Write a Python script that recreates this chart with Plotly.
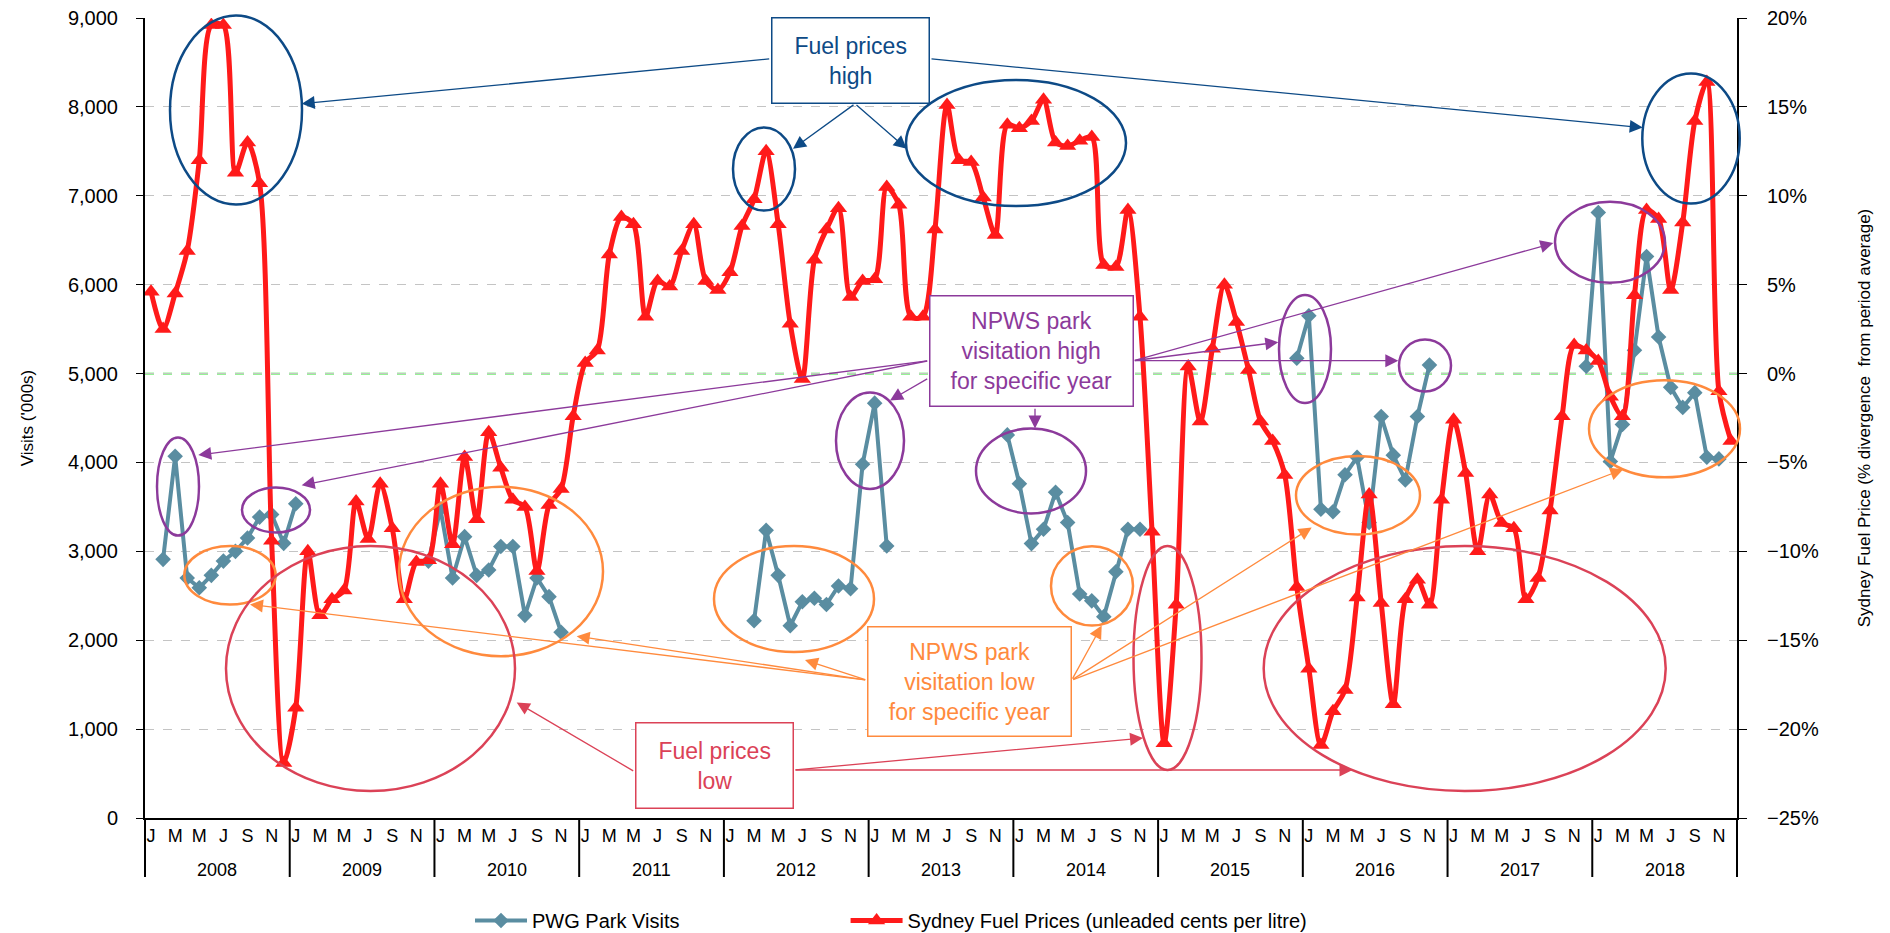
import plotly.graph_objects as go

# ---------------- data ----------------
years = [str(y) for y in range(2008, 2019)]
month_letters = ["J", "M", "M", "J", "S", "N"]

# Sydney fuel price, % divergence from period average (monthly, Jan..Dec)
fuel_2008 = [4.6, 2.5, 4.5, 6.9, 12.0, 19.6, 19.6, 11.3, 13.0, 10.7, -9.4, -21.9]
fuel_2009 = [-18.8, -10.0, -13.6, -12.7, -12.2, -7.2, -9.3, -6.2, -8.7, -12.7, -10.6, -10.5]
fuel_2010 = [-6.2, -9.6, -4.7, -8.2, -3.3, -5.3, -7.1, -7.5, -11.1, -7.4, -6.5, -2.4]
fuel_2011 = [0.6, 1.3, 6.7, 8.8, 8.4, 3.2, 5.2, 4.9, 6.9, 8.4, 5.2, 4.7]
fuel_2012 = [5.7, 8.3, 9.8, 12.5, 8.4, 2.8, -0.3, 6.4, 8.1, 9.3, 4.3, 5.2]
fuel_2013 = [5.3, 10.5, 9.5, 3.2, 3.2, 8.1, 15.1, 12.0, 11.9, 9.9, 7.8, 14.0]
fuel_2014 = [13.8, 14.2, 15.4, 13.0, 12.8, 13.1, 13.3, 6.1, 6.0, 9.2, 3.2, -8.9]
fuel_2015 = [-20.8, -13.0, 0.4, -2.7, 1.4, 5.0, 2.9, 0.2, -2.7, -3.8, -5.7, -12.0]
fuel_2016 = [-16.6, -20.9, -19.0, -17.8, -12.6, -6.8, -12.9, -18.6, -12.7, -11.6, -13.0, -7.1]
fuel_2017 = [-2.6, -5.6, -10.0, -6.8, -8.4, -8.7, -12.7, -11.5, -7.7, -2.4, 1.6, 1.3]
fuel_2018 = [0.7, -1.3, -2.4, 4.4, 9.2, 8.7, 4.7, 8.5, 14.2, 16.4, -1.0, -3.8]

# PWG park visits ('000s), None where no value
visits_2008 = [None, 2910, 4070, 2700, 2590, 2730, 2890, 3000, 3150, 3385, 3415, 3090]
visits_2009 = [3535, None, None, None, None, None, None, None, None, None, None, 2890]
visits_2010 = [3475, 2700, 3165, 2730, 2790, 3055, 3055, 2280, 2700, 2490, 2090, None]
visits_2011 = [None] * 12
visits_2012 = [None, None, 2220, 3236, 2730, 2163, 2432, 2473, 2402, 2610, 2580, 3980]
visits_2013 = [4667, 3060, None, None, None, None, None, None, None, None, None, 4310]
visits_2014 = [3760, 3087, 3248, 3665, 3325, 2520, 2443, 2265, 2771, 3248, 3248, None]
visits_2015 = [None] * 11 + [5173]
visits_2016 = [5650, 3474, 3445, 3862, 4058, 3325, 4517, 4082, 3802, 4517, 5095, None]
visits_2017 = [None] * 11 + [5083]
visits_2018 = [6812, 4011, 4428, 5262, 6317, 5411, 4845, 4619, 4785, 4058, 4040, None]

fuel = (fuel_2008 + fuel_2009 + fuel_2010 + fuel_2011 + fuel_2012 + fuel_2013
        + fuel_2014 + fuel_2015 + fuel_2016 + fuel_2017 + fuel_2018)
visits = (visits_2008 + visits_2009 + visits_2010 + visits_2011 + visits_2012 + visits_2013
          + visits_2014 + visits_2015 + visits_2016 + visits_2017 + visits_2018)
n_months = len(fuel)
xs = list(range(n_months))

# ---------------- styling ----------------
FONT = "Liberation Sans, Arial, sans-serif"
BLUE = "#5A8DA1"
RED = "#FF1A1A"
NAVY = "#0D4A86"
PURPLE = "#8C3A9B"
ORANGE = "#FF8A3D"
CRIMSON = "#DB4257"

W, H = 1890, 933
PL, PR, PT, PB = 145, 1737, 18, 818


def PX(x):
    return (x - PL) / (PR - PL)


def PY(y):
    return (PB - y) / (PB - PT)


fig = go.Figure()
fig.add_trace(go.Scatter(
    x=xs, y=visits, name="PWG Park Visits" + "\u00a0" * 29, mode="lines+markers",
    line=dict(color=BLUE, width=4), connectgaps=False,
    marker=dict(symbol="diamond", size=12, color=BLUE),
    yaxis="y"))
fig.add_trace(go.Scatter(
    x=xs, y=fuel, name="Sydney Fuel Prices (unleaded cents per litre)", mode="lines+markers",
    line=dict(color=RED, width=5, shape="spline", smoothing=0.8),
    marker=dict(symbol="triangle-up", size=15, color=RED),
    yaxis="y2"))

shapes = []
annotations = []

# period-average reference line
shapes.append(dict(type="line", xref="paper", yref="y", x0=0, x1=1, y0=5000, y1=5000,
                   line=dict(color="#2EE62E", width=1.8, dash="dash"), layer="between"))

# year separators below axis
n_years = len(years)
for k in range(n_years + 1):
    shapes.append(dict(type="line", xref="paper", yref="paper", x0=k / n_years, x1=k / n_years,
                       y0=0, y1=-(877 - PB) / (PB - PT), line=dict(color="black", width=2)))
for k, yr in enumerate(years):
    annotations.append(dict(x=(k + 0.5) / n_years, y=-(870 - PB) / (PB - PT), xref="paper", yref="paper",
                            text=yr, showarrow=False, font=dict(family=FONT, size=18, color="black"),
                            xanchor="center", yanchor="middle"))


# ---------------- annotation graphics ----------------
def ellipse(cx, cy, rx, ry, color):
    shapes.append(dict(type="circle", xref="paper", yref="paper",
                       x0=PX(cx - rx), x1=PX(cx + rx), y0=PY(cy + ry), y1=PY(cy - ry),
                       line=dict(color=color, width=2.5)))


def arrow(tx, ty, hx, hy, color):
    annotations.append(dict(x=PX(hx), y=PY(hy), xref="paper", yref="paper",
                            ax=tx - hx, ay=ty - hy, axref="pixel", ayref="pixel",
                            text="", showarrow=True, arrowhead=2, arrowsize=2.0,
                            arrowwidth=1.3, arrowcolor=color, standoff=0, startstandoff=0))


def box(x0, y0, x1, y1, text, color, size):
    annotations.append(dict(x=PX((x0 + x1) / 2), y=PY((y0 + y1) / 2), xref="paper", yref="paper",
                            text=text, showarrow=False, xanchor="center", yanchor="middle",
                            width=x1 - x0 - 3, height=y1 - y0 - 3, borderpad=0,
                            bordercolor=color, borderwidth=1.5, bgcolor="white",
                            font=dict(family=FONT, size=size, color=color)))


# navy: fuel prices high
for cx, cy, rx, ry in [(236, 110, 66, 94.5), (764, 169, 31, 41.6), (1016, 143, 110, 63), (1691, 138.5, 48.7, 65)]:
    ellipse(cx, cy, rx, ry, NAVY)
# purple: visitation high
for cx, cy, rx, ry in [(178, 486.5, 21, 49), (276, 510, 34, 22.5), (870, 440.7, 34, 48.2),
                       (1031, 471, 55, 42.4), (1305, 349, 26, 54), (1425, 365.5, 26, 26),
                       (1610, 242.3, 55, 40.5)]:
    ellipse(cx, cy, rx, ry, PURPLE)
# orange: visitation low
for cx, cy, rx, ry in [(230, 575.3, 45.7, 29.2), (501, 571.5, 102, 84.7), (794, 599, 80, 53),
                       (1092, 585.9, 41, 39.7), (1358, 495.3, 62, 39.2), (1664.5, 428.8, 75.5, 48.5)]:
    ellipse(cx, cy, rx, ry, ORANGE)
# crimson: fuel prices low
for cx, cy, rx, ry in [(370.5, 668.5, 144.5, 122.5), (1167.5, 658, 34, 112), (1464.7, 668.5, 201, 122.5)]:
    ellipse(cx, cy, rx, ry, CRIMSON)

# arrows
arrow(770.7, 58.8, 301.7, 103.8, NAVY)
arrow(855, 103.8, 793, 148.8, NAVY)
arrow(855, 103.8, 906.7, 148.8, NAVY)
arrow(930, 58.8, 1642.7, 127.6, NAVY)

arrow(928.7, 360.7, 198.3, 455, PURPLE)
arrow(928.7, 360.7, 301.7, 485.2, PURPLE)
arrow(928.7, 378, 890, 400.4, PURPLE)
arrow(1035, 407.3, 1035, 428.5, PURPLE)
arrow(1133.3, 360.7, 1278.3, 342.2, PURPLE)
arrow(1133.3, 360.7, 1398.3, 360.7, PURPLE)
arrow(1133.3, 360.7, 1553.3, 243.1, PURPLE)

arrow(866.7, 680.1, 250, 604.4, ORANGE)
arrow(866.7, 680.1, 576.7, 636.2, ORANGE)
arrow(866.7, 680.1, 805, 660, ORANGE)
arrow(1071.7, 680.1, 1101.7, 625.6, ORANGE)
arrow(1071.7, 680.1, 1311.7, 527.6, ORANGE)
arrow(1071.7, 680.1, 1623.3, 469.3, ORANGE)

arrow(634.7, 771.7, 516.7, 702.4, CRIMSON)
arrow(794, 770, 1143, 738, CRIMSON)
arrow(794, 770, 1352.5, 770, CRIMSON)

# text boxes
box(770.7, 16.4, 930, 103.8, "Fuel prices<br>high", NAVY, 23)
box(928.7, 295.6, 1133.3, 407.3, "NPWS park<br>visitation high<br>for specific year", PURPLE, 23)
box(866.7, 625.6, 1071.7, 736.8, "NPWS park<br>visitation low<br>for specific year", ORANGE, 23)
box(634.7, 721.7, 794, 809, "Fuel prices<br>low", CRIMSON, 23)

fig.update_layout(
    width=W, height=H,
    margin=dict(l=PL, r=W - PR, t=PT, b=H - PB, autoexpand=False),
    paper_bgcolor="white", plot_bgcolor="white",
    font=dict(family=FONT, size=17, color="black"),
    showlegend=True,
    legend=dict(orientation="h", x=PX(470), xanchor="left", y=PY(901), yanchor="top",
                font=dict(family=FONT, size=20, color="black"), itemwidth=52,
                bgcolor="rgba(0,0,0,0)"),
    xaxis=dict(range=[-0.5, n_months - 0.5], tickmode="array",
               tickvals=xs[::2], ticktext=month_letters * n_years, automargin=False,
               showgrid=False, zeroline=False, showline=True, linecolor="black", linewidth=2,
               ticks="", tickfont=dict(family=FONT, size=18, color="black")),
    yaxis=dict(range=[0, 9000], dtick=1000, tickformat=",", showgrid=True, automargin=False,
               gridcolor="#C4C4C4", griddash="dash", gridwidth=1.2, zeroline=False,
               showline=True, linecolor="black", linewidth=2, ticks="outside", ticklen=7,
               tickcolor="black", tickfont=dict(family=FONT, size=20, color="black"),
               ticklabelstandoff=14,
               title=dict(text="Visits ('000s)", font=dict(family=FONT, size=17, color="black"), standoff=30)),
    yaxis2=dict(range=[-25, 20], dtick=5, ticksuffix="%", overlaying="y", side="right",
                showgrid=False, zeroline=False, showline=True, linecolor="black", linewidth=2,
                ticks="outside", ticklen=8, tickcolor="black", automargin=False,
                tickfont=dict(family=FONT, size=20, color="black"), ticklabelstandoff=16,
                title=dict(text="Sydney Fuel Price (% divergence  from period average)",
                           font=dict(family=FONT, size=17, color="black"), standoff=40)),
    shapes=shapes,
    annotations=annotations,
)

fig.write_html("out.html", config={"displayModeBar": False},
               post_script="document.body.style.margin='0';")
